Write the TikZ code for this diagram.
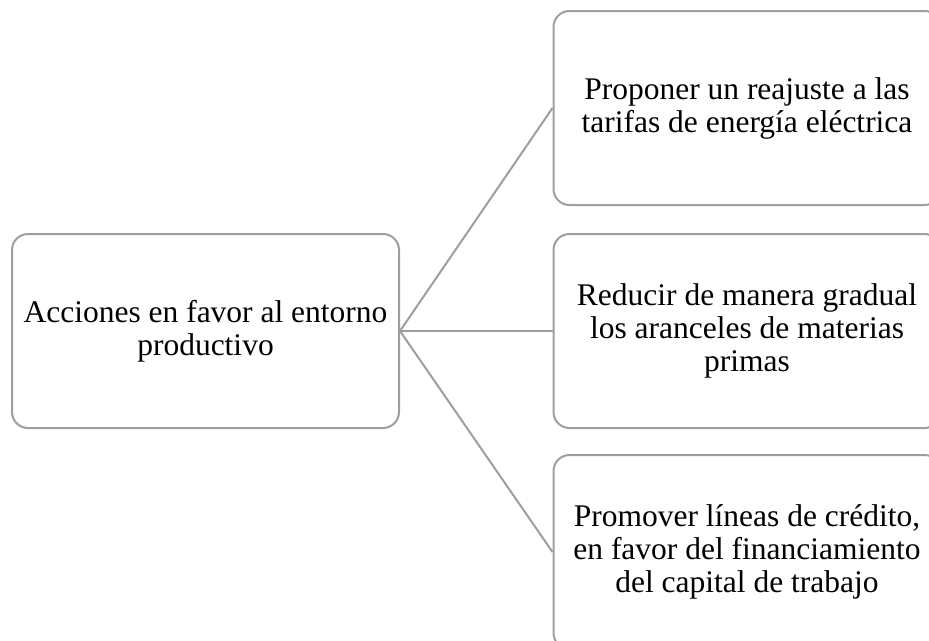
\documentclass[tikz,border=0pt]{standalone}
\usepackage{fontspec}
\setmainfont{Liberation Serif}
\definecolor{linegray}{RGB}{158,158,158}
\begin{document}
\begin{tikzpicture}[x=1pt,y=-1pt,
  box/.style={draw=linegray, line width=2pt, rounded corners=16pt, minimum width=387pt, minimum height=194pt, align=center, inner sep=0pt, font=\fontsize{31.5}{33}\selectfont},
  link/.style={draw=linegray, line width=2pt}]
\clip (0,0) rectangle (929,640);
\useasboundingbox (0,0) rectangle (929,640);
\node[box] (a) at (205.5,331) {Acciones en favor al entorno\\productivo};
\node[box] (b1) at (747,108) {Proponer un reajuste a las\\tarifas de energía eléctrica};
\node[box] (b2) at (747,331) {Reducir de manera gradual\\los aranceles de materias\\primas};
\node[box] (b3) at (747,552) {Promover líneas de crédito,\\en favor del financiamiento\\del capital de trabajo};
\draw[link] (a.east) -- (b1.west);
\draw[link] (a.east) -- (b2.west);
\draw[link] (a.east) -- (b3.west);
\end{tikzpicture}
\end{document}
